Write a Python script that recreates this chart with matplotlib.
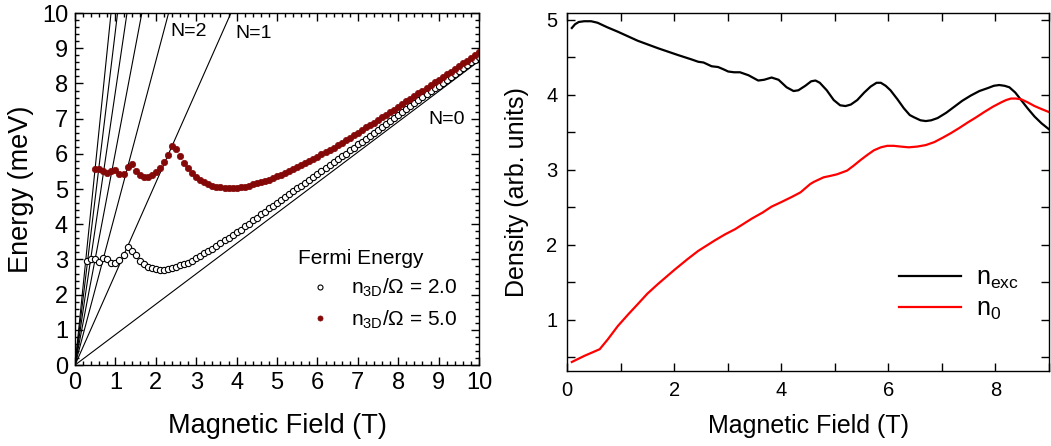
import numpy as np
import matplotlib
matplotlib.use("Agg")
from matplotlib import pyplot as plt
from matplotlib.ticker import MultipleLocator

plt.rcParams['font.family'] = ['Liberation Sans', 'DejaVu Sans']
plt.rcParams['mathtext.fontset'] = 'custom'
plt.rcParams['mathtext.rm'] = 'Liberation Sans'
plt.rcParams['mathtext.it'] = 'Liberation Sans:italic'

# Landau levels: E = (N + 1/2) * hbar*omega_c, hbar*omega_c per tesla (meV/T)
hw_per_tesla = 1.728
landau_n = [0, 1, 2, 3, 4, 5, 6]

# Fermi energy, n3D/Omega = 2.0 (open circles)
b_open = np.round(np.linspace(0.3, 10.0, 98), 2)
e_open = [2.96, 3.02, 3.02, 2.93, 3.04, 3.00, 2.89, 2.89, 2.98, 3.13,
          3.36, 3.25, 3.13, 2.96, 2.87, 2.79, 2.75, 2.72, 2.70, 2.70,
          2.72, 2.75, 2.79, 2.83, 2.87, 2.91, 2.96,
          3.04, 3.10, 3.17, 3.23, 3.30, 3.39, 3.46, 3.54, 3.61, 3.69,
          3.78, 3.85, 3.94, 4.02, 4.11, 4.19, 4.28, 4.36, 4.45, 4.53,
          4.61, 4.69, 4.78, 4.86, 4.94, 5.02, 5.10, 5.18, 5.27, 5.35,
          5.43, 5.51, 5.60, 5.68, 5.76, 5.85, 5.93, 6.01, 6.10, 6.18,
          6.27, 6.35, 6.43, 6.52, 6.60, 6.69, 6.77, 6.86, 6.94, 7.03,
          7.11, 7.20, 7.28, 7.37, 7.45, 7.54, 7.62, 7.70, 7.78, 7.87,
          7.94, 8.02, 8.10, 8.19, 8.27, 8.35, 8.44, 8.52, 8.60, 8.67,
          8.75]

# Fermi energy, n3D/Omega = 5.0 (filled dots)
b_fill = np.round(np.linspace(0.5, 10.0, 96), 2)
e_fill = [5.56, 5.56, 5.50, 5.46, 5.52, 5.55, 5.43, 5.44, 5.64, 5.70,
          5.50, 5.39, 5.34, 5.33, 5.39, 5.48, 5.60, 5.77, 5.97, 6.22,
          6.15, 5.94, 5.75, 5.59, 5.46,
          5.35, 5.26, 5.19, 5.14, 5.10, 5.07, 5.05, 5.04, 5.03, 5.03,
          5.04, 5.05, 5.07, 5.10, 5.13, 5.16, 5.20, 5.23, 5.27, 5.32,
          5.36, 5.41, 5.46, 5.51, 5.57, 5.62, 5.68, 5.74, 5.80, 5.86,
          5.92, 5.99, 6.05, 6.12, 6.18, 6.25, 6.32, 6.39, 6.46, 6.53,
          6.60, 6.67, 6.75, 6.82, 6.89, 6.97, 7.04, 7.11, 7.19, 7.26,
          7.34, 7.41, 7.49, 7.57, 7.64, 7.72, 7.80, 7.87, 7.95, 8.03,
          8.11, 8.18, 8.26, 8.34, 8.42, 8.50, 8.57, 8.65, 8.73, 8.81,
          8.89]

# right panel: densities
b_exc = [0.09, 0.15, 0.22, 0.32, 0.45, 0.57, 0.75, 0.95, 1.32, 1.70,
         2.07, 2.33, 2.45, 2.55, 2.70, 2.82, 2.92, 3.01, 3.12, 3.23,
         3.39, 3.57, 3.68, 3.82, 3.95, 4.10, 4.23, 4.32, 4.45, 4.56,
         4.64, 4.72, 4.85, 4.98, 5.10, 5.20, 5.30, 5.42, 5.55, 5.67,
         5.78, 5.86, 5.95, 6.04, 6.17, 6.29, 6.40, 6.48, 6.60, 6.70,
         6.80, 6.92, 7.08, 7.23, 7.38, 7.54, 7.70, 7.86, 7.97, 8.07,
         8.17, 8.26, 8.37, 8.48, 8.60, 8.73, 8.86, 9.00]
n_exc = [4.89, 4.94, 4.97, 4.98, 4.98, 4.96, 4.90, 4.84, 4.72, 4.62,
         4.53, 4.47, 4.44, 4.43, 4.38, 4.37, 4.34, 4.31, 4.30, 4.30,
         4.26, 4.19, 4.20, 4.23, 4.20, 4.10, 4.05, 4.06, 4.12, 4.18,
         4.19, 4.16, 4.06, 3.93, 3.86, 3.85, 3.87, 3.93, 4.03, 4.11,
         4.16, 4.16, 4.12, 4.06, 3.94, 3.82, 3.73, 3.70, 3.66, 3.65,
         3.66, 3.69, 3.76, 3.84, 3.92, 3.99, 4.05, 4.09, 4.12, 4.13,
         4.12, 4.10, 4.03, 3.93, 3.82, 3.71, 3.62, 3.54]

b_0 = [0.09, 0.32, 0.61, 0.76, 0.95, 1.15, 1.32, 1.50, 1.70, 2.01,
       2.25, 2.45, 2.76, 2.95, 3.14, 3.45, 3.65, 3.82, 4.00, 4.20,
       4.36, 4.54, 4.61, 4.79, 4.92, 5.04, 5.23, 5.36, 5.48, 5.61,
       5.73, 5.86, 5.98, 6.10, 6.23, 6.38, 6.54, 6.70, 6.86, 7.02,
       7.17, 7.33, 7.48, 7.64, 7.79, 7.95, 8.11, 8.20, 8.29, 8.38,
       8.48, 8.60, 8.73, 8.86, 9.00]
n_0 = [0.44, 0.52, 0.61, 0.74, 0.92, 1.08, 1.21, 1.35, 1.48, 1.67,
       1.81, 1.92, 2.06, 2.14, 2.21, 2.35, 2.43, 2.51, 2.57, 2.64,
       2.70, 2.81, 2.84, 2.90, 2.92, 2.94, 2.99, 3.06, 3.13, 3.20,
       3.26, 3.30, 3.32, 3.32, 3.31, 3.30, 3.31, 3.33, 3.37, 3.43,
       3.49, 3.56, 3.63, 3.70, 3.77, 3.84, 3.90, 3.93, 3.95, 3.95,
       3.94, 3.90, 3.85, 3.81, 3.77]

fig = plt.figure(figsize=(10.51, 4.46), dpi=100)
ax1 = fig.add_axes([0.0714, 0.1816, 0.3844, 0.789])
ax2 = fig.add_axes([0.5395, 0.1682, 0.4586, 0.8027])

# ---- left panel
bline = np.array([0.0, 10.0])
for n in landau_n:
    ax1.plot(bline, (n + 0.5) * hw_per_tesla * bline, color='black', lw=0.8)

ax1.plot(b_open, e_open, 'o', ms=4.5, mfc='white', mec='black', mew=0.8,
         label=r'$\mathrm{n}_{\mathrm{3D}}$/Ω = 2.0')
ax1.plot(b_fill, e_fill, 'o', ms=4.6, mfc='#850808', mec='#850808', mew=0.5,
         label=r'$\mathrm{n}_{\mathrm{3D}}$/Ω = 5.0')

ax1.text(2.8, 9.49, 'N=2', ha='center', va='center', fontsize=14)
ax1.text(4.43, 9.43, 'N=1', ha='center', va='center', fontsize=14)
ax1.text(9.2, 6.99, 'N=0', ha='center', va='center', fontsize=14)

ax1.set_xlim(0, 10)
ax1.set_ylim(0, 10)
ax1.xaxis.set_major_locator(MultipleLocator(1))
ax1.xaxis.set_minor_locator(MultipleLocator(0.2))
ax1.yaxis.set_major_locator(MultipleLocator(1))
ax1.yaxis.set_minor_locator(MultipleLocator(0.2))
ax1.tick_params(which='both', direction='in', top=True, right=True, width=1)
ax1.tick_params(which='major', length=6, labelsize=17, pad=5)
ax1.tick_params(which='minor', length=3)
ax1.set_xlabel('Magnetic Field (T)', fontsize=19.5, labelpad=14)
ax1.set_ylabel('Energy (meV)', fontsize=19.5, labelpad=6)

leg1 = ax1.legend(title='Fermi Energy', loc='upper left', bbox_to_anchor=(0.525, 0.36),
                  frameon=False, fontsize=15, title_fontsize=15, borderpad=0,
                  handlelength=2.2, handletextpad=0.35, labelspacing=0.45,
                  markerscale=0.8)
leg1._legend_box.align = 'left'

# ---- right panel
ax2.plot(b_exc, n_exc, color='black', lw=1.6, label=r'$\mathrm{n}_{\mathrm{exc}}$')
ax2.plot(b_0, n_0, color='red', lw=1.6, label=r'$\mathrm{n}_{\mathrm{0}}$')
ax2.set_xlim(0, 9)
ax2.set_ylim(0.32, 5.09)
ax2.xaxis.set_major_locator(MultipleLocator(2))
ax2.xaxis.set_minor_locator(MultipleLocator(1))
ax2.yaxis.set_major_locator(MultipleLocator(1))
ax2.yaxis.set_minor_locator(MultipleLocator(0.5))
ax2.tick_params(which='both', direction='in', top=True, right=True, width=1, length=6)
ax2.tick_params(which='major', labelsize=14.5, pad=7)
ax2.set_xlabel('Magnetic Field (T)', fontsize=18, labelpad=10)
ax2.set_ylabel('Density (arb. units)', fontsize=18, labelpad=12)
ax2.legend(loc='upper left', bbox_to_anchor=(0.662, 0.33), frameon=False,
           fontsize=18, borderpad=0, handlelength=2.5, handletextpad=0.6,
           labelspacing=0.25)

for ax in (ax1, ax2):
    for s in ax.spines.values():
        s.set_linewidth(1.0)

fig.savefig('out.png', dpi=100)
